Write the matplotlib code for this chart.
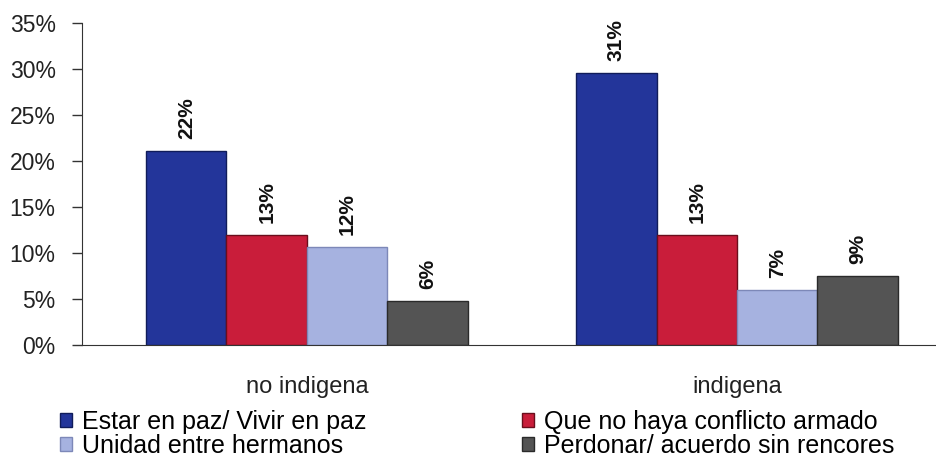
import matplotlib
matplotlib.use("Agg")
import matplotlib.pyplot as plt
import numpy as np

plt.rcParams['font.family'] = ['Liberation Sans', 'DejaVu Sans']

categories = ["no indigena", "indigena"]
series_names = ["Estar en paz/ Vivir en paz", "Que no haya conflicto armado",
                "Unidad entre hermanos", "Perdonar/ acuerdo sin rencores"]
# bar heights as drawn in the picture (fraction)
values = {
    "Estar en paz/ Vivir en paz": [0.211, 0.296],
    "Que no haya conflicto armado": [0.120, 0.120],
    "Unidad entre hermanos": [0.107, 0.060],
    "Perdonar/ acuerdo sin rencores": [0.048, 0.075],
}
# printed value labels
labels = {
    "Estar en paz/ Vivir en paz": ["22%", "31%"],
    "Que no haya conflicto armado": ["13%", "13%"],
    "Unidad entre hermanos": ["12%", "7%"],
    "Perdonar/ acuerdo sin rencores": ["6%", "9%"],
}
colors = ["#23359a", "#c91d3a", "#a6b2e0", "#545454"]
edges = ["#101c5a", "#6a0e1c", "#7d88b8", "#2a2a2a"]
yticks = [0, 0.05, 0.10, 0.15, 0.20, 0.25, 0.30, 0.35]
ytick_labels = ["0%", "5%", "10%", "15%", "20%", "25%", "30%", "35%"]

fig = plt.figure(figsize=(9.37, 4.70), dpi=100)
ax = fig.add_axes([0.0875, 0.266, 0.9125, 0.685])

x = np.arange(len(categories))
w = 0.187
offsets = [-1.5 * w, -0.5 * w, 0.5 * w, 1.5 * w]
handles = []
for i, name in enumerate(series_names):
    bars = ax.bar(x + offsets[i], values[name], width=w, color=colors[i],
                  edgecolor=edges[i], linewidth=1.0, label=name)
    handles.append(bars)
    for b, lab in zip(bars, labels[name]):
        ax.text(b.get_x() + b.get_width() / 2, b.get_height() + 0.013, lab,
                rotation=90, ha="center", va="bottom", fontsize=15,
                fontweight="bold", color="#111111")

ax.set_xlim(-0.523, 1.465)
ax.set_ylim(0, 0.35)
ax.set_yticks(yticks)
ax.set_yticklabels(ytick_labels, fontsize=16.5, color="#222222")
ax.set_xticks(x)
ax.set_xticklabels(categories, fontsize=17, color="#222222")
ax.tick_params(axis="x", length=0, pad=22)
ax.tick_params(axis="y", length=7, width=1, direction="out", pad=12, color="#333333")
for s in ["top", "right"]:
    ax.spines[s].set_visible(False)
ax.spines["left"].set_color("#333333")
ax.spines["bottom"].set_color("#333333")

order = [0, 2, 1, 3]
fig.legend([handles[k] for k in order], [series_names[k] for k in order],
           loc="lower left", bbox_to_anchor=(0.04, -0.022), ncol=2,
           frameon=False, fontsize=18, handlelength=0.5, handleheight=0.5,
           handletextpad=0.4, columnspacing=6.2, labelspacing=0.0)

fig.savefig("out.png", dpi=100)
